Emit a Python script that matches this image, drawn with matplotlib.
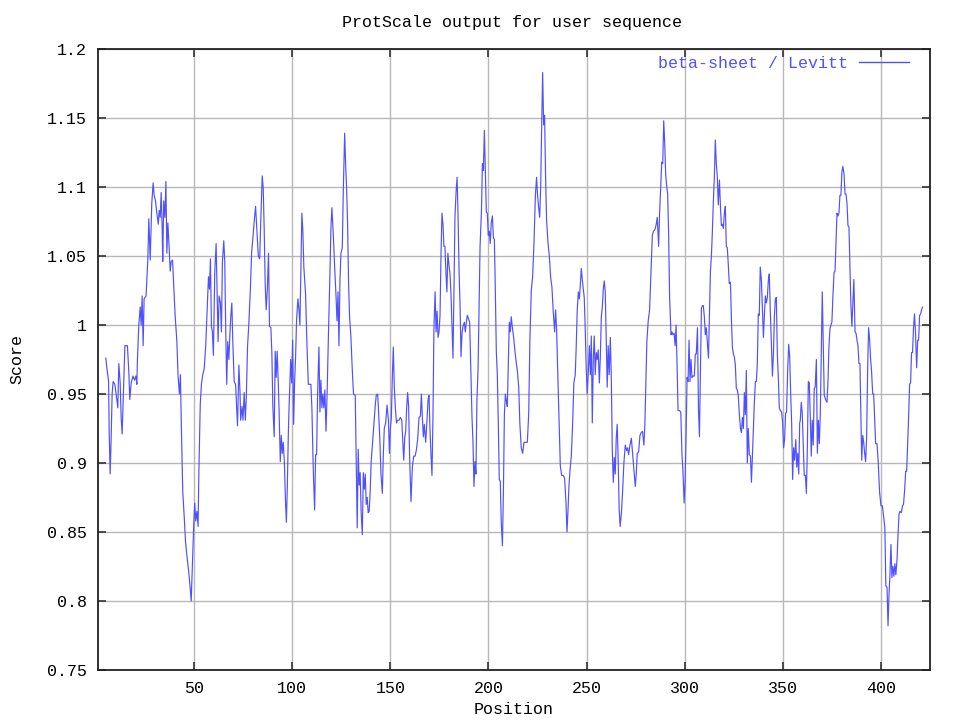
import matplotlib
matplotlib.use("Agg")
import matplotlib.pyplot as plt
from matplotlib.lines import Line2D

# (position, score) pairs, one list per stretch of the sequence
seg_1_73 = [
    (5.0, 0.976), (5.5, 0.969), (6.4, 0.959), (6.7, 0.923), (7.2, 0.892), (7.7, 0.918),
    (8.2, 0.95), (8.7, 0.959), (9.6, 0.957), (10.3, 0.949), (11.1, 0.94), (11.6, 0.972),
    (12.3, 0.958), (12.8, 0.933), (13.3, 0.921), (14.0, 0.954), (14.7, 0.985), (16.0, 0.985),
    (16.7, 0.966), (17.2, 0.946), (17.9, 0.958), (18.8, 0.963), (19.6, 0.96), (20.3, 0.963),
    (20.8, 0.957), (21.1, 0.975), (21.8, 1.0), (22.5, 1.013), (23.0, 1.0), (23.5, 1.021),
    (24.0, 0.985), (24.5, 1.019), (25.5, 1.021), (26.4, 1.048), (26.9, 1.077), (27.6, 1.047),
    (27.9, 1.063), (28.4, 1.088), (29.1, 1.103), (29.6, 1.094), (30.3, 1.09), (31.0, 1.081),
    (31.7, 1.073), (32.2, 1.083), (32.7, 1.078), (33.2, 1.096), (33.7, 1.07), (34.0, 1.046),
    (34.5, 1.09), (35.1, 1.078), (35.6, 1.104), (36.1, 1.052), (36.6, 1.074), (37.3, 1.055),
    (37.8, 1.039), (38.3, 1.046), (39.0, 1.047), (39.5, 1.032), (40.3, 1.007), (41.2, 0.988),
    (41.8, 0.963), (42.5, 0.95), (43.0, 0.964), (43.5, 0.925), (44.2, 0.879), (44.9, 0.862),
    (45.6, 0.843), (46.3, 0.833), (47.1, 0.823), (48.0, 0.809), (48.5, 0.8), (49.2, 0.83),
    (49.8, 0.856), (50.3, 0.871), (50.8, 0.858), (51.4, 0.865), (52.0, 0.854), (52.4, 0.893),
    (53.1, 0.942), (53.7, 0.957), (54.4, 0.964), (55.1, 0.968), (55.9, 0.985), (56.6, 1.011),
    (57.3, 1.035), (57.8, 1.026), (58.3, 1.048), (58.8, 0.999), (59.3, 0.995), (59.8, 0.978),
    (60.5, 1.038), (61.2, 1.059), (61.7, 1.024), (62.2, 0.988), (62.7, 1.021), (63.4, 1.016),
    (63.9, 0.995), (64.4, 1.046), (65.1, 1.061), (65.6, 1.046), (66.1, 0.995), (66.6, 0.957),
    (67.1, 0.988), (67.7, 0.975), (68.2, 0.993), (68.7, 1.007), (69.2, 1.016), (69.7, 0.988),
    (70.4, 0.959), (71.1, 0.957), (71.6, 0.942), (72.1, 0.927), (72.8, 0.971), (73.4, 0.95),
]

seg_74_144 = [
    (73.7, 0.931), (74.4, 0.941), (74.9, 0.931), (75.5, 0.951), (76.1, 0.931), (76.6, 0.949),
    (77.2, 0.984), (77.9, 1.002), (78.6, 1.024), (79.3, 1.053), (80.0, 1.064), (80.6, 1.075),
    (81.3, 1.086), (82.0, 1.068), (82.7, 1.05), (83.4, 1.048), (84.0, 1.078), (84.7, 1.108),
    (85.2, 1.099), (85.7, 1.069), (86.2, 1.03), (86.7, 1.011), (87.3, 1.026), (87.9, 1.052),
    (88.4, 0.999), (89.1, 0.998), (89.6, 0.98), (90.1, 0.941), (90.8, 0.919), (91.3, 0.981),
    (91.8, 0.962), (92.3, 0.981), (92.9, 0.957), (93.4, 0.931), (93.9, 0.901), (94.4, 0.92),
    (94.9, 0.907), (95.4, 0.915), (96.0, 0.9), (96.5, 0.874), (97.0, 0.857), (97.5, 0.884),
    (98.0, 0.922), (98.5, 0.946), (99.2, 0.975), (99.7, 0.958), (100.2, 0.989), (100.7, 0.928),
    (101.2, 0.959), (101.7, 0.977), (102.2, 1.004), (102.9, 1.019), (103.4, 1.011), (103.9, 1.0),
    (104.4, 1.039), (104.9, 1.081), (105.4, 1.068), (105.9, 1.042), (106.8, 1.022), (107.5, 0.985),
    (108.2, 0.957), (108.8, 0.957), (109.5, 0.957), (110.0, 0.94), (110.7, 0.895), (111.4, 0.866),
    (111.9, 0.906), (112.4, 0.906), (112.9, 0.95), (113.6, 0.984), (114.1, 0.937), (114.6, 0.96),
    (115.1, 0.94), (115.6, 0.95), (116.1, 0.94), (116.6, 0.953), (117.2, 0.923), (117.8, 0.953),
    (118.5, 0.997), (119.2, 1.037), (119.7, 1.07), (120.2, 1.085), (120.9, 1.066), (121.6, 1.042),
    (122.2, 1.024), (122.8, 1.003), (123.3, 1.024), (123.8, 0.985), (124.3, 1.032), (124.8, 1.052),
    (125.5, 1.056), (126.0, 1.097), (126.7, 1.139), (127.2, 1.116), (127.7, 1.099), (128.2, 1.073),
    (128.7, 1.03), (129.2, 1.006), (129.9, 0.991), (130.6, 0.967), (131.2, 0.95), (132.1, 0.949),
    (132.6, 0.901), (133.1, 0.853), (133.6, 0.91), (134.1, 0.884), (134.6, 0.893), (135.1, 0.864),
    (135.7, 0.848), (136.2, 0.893), (136.7, 0.881), (137.2, 0.892), (137.7, 0.87), (138.2, 0.875),
    (138.7, 0.864), (139.2, 0.865), (139.7, 0.879), (140.2, 0.901), (140.9, 0.914), (141.6, 0.928),
    (142.3, 0.942), (142.8, 0.949), (143.5, 0.95), (143.9, 0.94),
]

seg_145_215 = [
    (144.6, 0.918), (145.2, 0.892), (145.9, 0.878), (146.4, 0.906), (146.9, 0.925), (147.6, 0.929),
    (148.3, 0.942), (149.0, 0.931), (149.5, 0.907), (150.0, 0.925), (150.5, 0.933), (151.0, 0.963),
    (151.5, 0.984), (152.0, 0.955), (152.5, 0.941), (153.1, 0.929), (153.7, 0.931), (154.4, 0.931),
    (155.1, 0.933), (155.8, 0.931), (156.3, 0.917), (156.8, 0.902), (157.3, 0.918), (157.8, 0.923),
    (158.3, 0.94), (158.8, 0.951), (159.3, 0.941), (159.8, 0.905), (160.5, 0.872), (161.2, 0.897),
    (161.9, 0.905), (162.6, 0.905), (163.2, 0.909), (163.9, 0.917), (164.6, 0.933), (165.3, 0.934),
    (165.8, 0.95), (166.3, 0.933), (166.8, 0.919), (167.3, 0.928), (168.0, 0.915), (168.7, 0.932),
    (169.2, 0.946), (169.7, 0.949), (170.2, 0.924), (170.7, 0.906), (171.2, 0.891), (171.7, 0.933),
    (172.2, 0.998), (172.8, 1.024), (173.3, 0.995), (173.8, 1.01), (174.3, 0.991), (174.8, 0.995),
    (175.3, 1.007), (175.8, 1.051), (176.3, 1.081), (176.8, 1.073), (177.3, 1.057), (177.8, 1.057),
    (178.3, 1.038), (178.8, 1.024), (179.3, 1.052), (179.9, 1.043), (180.4, 1.037), (180.9, 1.022),
    (181.4, 0.999), (181.9, 0.976), (182.4, 1.024), (182.9, 1.078), (183.5, 1.097), (184.0, 1.107),
    (184.5, 1.079), (185.0, 1.039), (185.5, 1.015), (186.0, 0.977), (186.5, 0.994), (187.0, 0.999),
    (187.7, 1.002), (188.2, 0.995), (188.7, 1.002), (189.2, 1.007), (189.7, 1.005), (190.4, 1.002),
    (190.9, 0.972), (191.6, 0.933), (192.1, 0.915), (192.6, 0.883), (193.1, 0.901), (193.6, 0.892),
    (194.1, 0.945), (194.7, 0.969), (195.2, 1.013), (195.7, 1.057), (196.4, 1.082), (196.9, 1.117),
    (197.4, 1.112), (197.9, 1.141), (198.4, 1.111), (198.9, 1.082), (199.4, 1.081), (199.9, 1.065),
    (200.4, 1.068), (200.9, 1.059), (201.4, 1.074), (202.0, 1.079), (202.5, 1.063), (203.0, 1.062),
    (203.5, 1.024), (204.0, 0.98), (204.5, 0.964), (205.0, 0.929), (205.5, 0.888), (206.0, 0.887),
    (206.5, 0.857), (207.1, 0.84), (207.6, 0.879), (208.1, 0.935), (208.6, 0.95), (209.1, 0.945),
    (209.6, 0.941), (210.1, 0.971), (210.6, 1.002), (211.1, 0.995), (211.6, 1.006), (212.1, 0.999),
    (212.8, 0.991), (213.5, 0.981), (214.2, 0.972), (214.7, 0.967), (215.4, 0.955),
]

seg_216_287 = [
    (216.0, 0.928), (216.7, 0.911), (217.4, 0.907), (218.1, 0.915), (219.1, 0.915), (219.8, 0.915),
    (220.5, 0.936), (221.1, 0.989), (221.8, 1.025), (222.5, 1.035), (223.2, 1.06), (223.9, 1.094),
    (224.5, 1.107), (225.0, 1.094), (225.5, 1.086), (226.1, 1.078), (226.6, 1.1), (227.1, 1.144),
    (227.6, 1.183), (228.1, 1.145), (228.6, 1.152), (229.1, 1.107), (229.6, 1.076), (230.3, 1.06),
    (231.0, 1.05), (231.7, 1.034), (232.3, 1.028), (233.0, 1.01), (233.7, 0.995), (234.2, 1.011),
    (234.7, 0.997), (235.2, 0.971), (235.9, 0.932), (236.6, 0.898), (237.3, 0.891), (238.1, 0.891),
    (238.8, 0.889), (239.5, 0.871), (240.0, 0.85), (240.5, 0.865), (241.0, 0.883), (241.5, 0.894),
    (242.2, 0.905), (242.9, 0.929), (243.5, 0.958), (244.2, 0.964), (244.7, 0.984), (245.2, 1.01),
    (245.8, 1.024), (246.3, 1.019), (246.8, 1.029), (247.3, 1.041), (247.8, 1.033), (248.3, 1.026),
    (248.8, 1.02), (249.3, 0.997), (249.8, 0.969), (250.3, 0.95), (250.8, 0.964), (251.4, 0.985),
    (251.9, 0.964), (252.4, 0.992), (252.9, 0.929), (253.4, 0.975), (253.9, 0.992), (254.4, 0.964),
    (254.9, 0.98), (255.4, 0.975), (255.9, 0.982), (256.5, 0.958), (257.0, 0.977), (257.5, 1.006),
    (258.0, 1.013), (258.5, 1.026), (259.0, 1.032), (259.5, 1.024), (260.0, 0.988), (260.5, 0.955),
    (261.0, 0.985), (261.5, 0.964), (262.1, 0.991), (262.6, 0.961), (263.1, 0.909), (263.6, 0.886),
    (264.1, 0.904), (264.6, 0.892), (265.1, 0.918), (265.6, 0.928), (266.1, 0.902), (266.6, 0.866),
    (267.1, 0.854), (267.7, 0.863), (268.3, 0.878), (269.0, 0.9), (269.7, 0.913), (270.4, 0.909),
    (270.9, 0.911), (271.4, 0.906), (272.1, 0.913), (272.8, 0.918), (273.3, 0.909), (273.8, 0.9),
    (274.3, 0.892), (274.8, 0.883), (275.3, 0.892), (275.8, 0.907), (276.5, 0.908), (277.2, 0.92),
    (277.8, 0.922), (278.5, 0.923), (279.2, 0.913), (279.7, 0.928), (280.2, 0.959), (280.7, 0.988),
    (281.4, 1.003), (282.1, 1.011), (282.8, 1.038), (283.5, 1.065), (284.1, 1.068), (284.8, 1.069),
    (285.5, 1.073), (286.0, 1.078), (286.7, 1.057), (287.2, 1.081),
]

seg_288_358 = [
    (288.3, 1.118), (288.8, 1.117), (289.3, 1.148), (289.8, 1.132), (290.3, 1.109), (290.8, 1.101),
    (291.3, 1.095), (291.8, 1.066), (292.3, 1.02), (293.0, 0.993), (293.5, 0.995), (294.0, 0.993),
    (294.6, 0.994), (295.1, 0.985), (295.6, 1.0), (296.1, 0.971), (296.6, 0.938), (297.3, 0.938),
    (298.0, 0.937), (298.6, 0.906), (299.1, 0.894), (299.7, 0.871), (300.2, 0.887), (300.7, 0.92),
    (301.2, 0.962), (301.7, 0.959), (302.2, 0.989), (302.7, 0.959), (303.2, 0.975), (303.7, 0.962),
    (304.2, 0.963), (304.9, 0.963), (305.4, 0.979), (305.9, 0.979), (306.5, 0.998), (307.0, 0.94),
    (307.5, 0.919), (308.0, 0.964), (308.5, 1.012), (309.0, 1.014), (309.5, 1.014), (310.0, 1.006),
    (310.5, 0.993), (311.0, 0.998), (311.5, 0.988), (312.1, 0.976), (312.6, 1.007), (313.1, 1.039),
    (313.6, 1.05), (314.1, 1.068), (314.6, 1.09), (315.1, 1.107), (315.6, 1.134), (316.1, 1.117),
    (316.6, 1.108), (317.1, 1.087), (317.7, 1.105), (318.2, 1.086), (318.7, 1.072), (319.2, 1.073),
    (319.7, 1.07), (320.2, 1.081), (320.7, 1.086), (321.2, 1.057), (321.7, 1.056), (322.2, 1.044),
    (322.7, 1.03), (323.3, 1.031), (323.8, 1.004), (324.3, 0.984), (324.8, 0.979), (325.3, 0.977),
    (325.8, 0.971), (326.3, 0.954), (326.8, 0.953), (327.3, 0.949), (327.8, 0.936), (328.4, 0.925),
    (328.9, 0.922), (329.4, 0.933), (329.9, 0.925), (330.4, 0.951), (330.9, 0.935), (331.4, 0.967),
    (331.9, 0.9), (332.4, 0.925), (332.9, 0.906), (333.5, 0.905), (334.0, 0.886), (334.5, 0.906),
    (335.0, 0.927), (335.5, 0.944), (336.0, 0.959), (336.5, 0.959), (337.0, 0.972), (337.5, 1.008),
    (338.0, 1.007), (338.5, 1.042), (339.1, 1.032), (339.6, 1.011), (340.1, 0.991), (340.6, 1.007),
    (341.1, 1.021), (341.6, 1.016), (342.1, 1.02), (342.6, 1.032), (343.1, 1.037), (343.6, 1.011),
    (344.2, 0.985), (344.7, 0.963), (345.2, 0.979), (345.7, 1.006), (346.2, 1.019), (346.7, 1.02),
    (347.2, 0.979), (347.7, 0.962), (348.2, 0.94), (348.7, 0.938), (349.4, 0.937), (349.9, 0.929),
    (350.4, 0.911), (350.9, 0.917), (351.4, 0.936), (351.9, 0.937), (352.5, 0.969), (353.0, 0.986),
    (353.5, 0.977), (354.0, 0.95), (354.5, 0.929), (355.0, 0.888), (355.5, 0.911), (356.0, 0.902),
    (356.6, 0.917), (357.1, 0.897), (357.6, 0.907), (358.1, 0.892), (358.6, 0.929),
]

seg_359_421 = [
    (358.9, 0.931), (359.4, 0.944), (359.9, 0.936), (360.4, 0.913), (360.9, 0.891), (361.5, 0.891),
    (362.0, 0.878), (362.5, 0.911), (363.0, 0.959), (363.5, 0.958), (364.0, 0.933), (364.5, 0.905),
    (365.0, 0.931), (365.5, 0.913), (366.0, 0.954), (366.5, 0.955), (367.1, 0.975), (367.6, 0.907),
    (368.1, 0.931), (368.6, 0.914), (369.1, 0.936), (369.6, 0.979), (370.1, 1.024), (370.6, 0.985),
    (371.1, 0.949), (371.8, 0.946), (372.5, 0.944), (373.0, 0.959), (373.5, 0.984), (374.0, 0.997),
    (374.5, 1.0), (375.0, 1.002), (375.5, 1.02), (376.1, 1.038), (376.6, 1.039), (377.1, 1.06),
    (377.6, 1.081), (378.1, 1.079), (378.6, 1.081), (379.1, 1.094), (379.6, 1.094), (380.1, 1.111),
    (380.6, 1.115), (381.2, 1.109), (381.7, 1.095), (382.2, 1.095), (382.7, 1.088), (383.2, 1.072),
    (383.7, 1.071), (384.2, 1.042), (384.7, 1.014), (385.2, 0.999), (385.7, 1.016), (386.2, 1.033),
    (386.8, 0.995), (387.3, 0.994), (387.8, 0.989), (388.3, 0.985), (388.8, 0.972), (389.3, 0.972),
    (389.8, 0.933), (390.2, 0.902), (390.7, 0.92), (391.2, 0.915), (391.7, 0.907), (392.2, 0.901),
    (392.7, 0.918), (393.2, 0.966), (393.7, 0.998), (394.2, 0.99), (394.7, 0.976), (395.2, 0.967),
    (395.8, 0.95), (396.3, 0.95), (396.8, 0.931), (397.3, 0.914), (398.0, 0.914), (398.6, 0.901),
    (399.3, 0.879), (400.0, 0.869), (400.7, 0.869), (401.4, 0.861), (402.0, 0.853), (402.5, 0.811),
    (403.1, 0.81), (403.6, 0.782), (404.1, 0.804), (404.6, 0.819), (405.1, 0.841), (405.6, 0.817),
    (406.1, 0.825), (406.6, 0.818), (407.1, 0.827), (407.6, 0.819), (408.2, 0.83), (408.7, 0.848),
    (409.2, 0.863), (409.7, 0.865), (410.4, 0.864), (411.0, 0.869), (411.5, 0.87), (412.1, 0.881),
    (412.6, 0.894), (413.1, 0.894), (413.6, 0.914), (414.1, 0.933), (414.6, 0.957), (415.1, 0.958),
    (415.6, 0.98), (416.1, 0.98), (416.6, 0.998), (417.1, 1.008), (417.6, 0.995), (418.2, 0.969),
    (418.7, 0.989), (419.2, 0.989), (419.7, 1.007), (420.2, 1.008), (420.7, 1.011), (421.2, 1.013),
]

x_ticks = [50, 100, 150, 200, 250, 300, 350, 400]
y_ticks = [0.75, 0.8, 0.85, 0.9, 0.95, 1.0, 1.05, 1.1, 1.15, 1.2]
y_tick_labels = ["0.75", "0.8", "0.85", "0.9", "0.95", "1", "1.05", "1.1", "1.15", "1.2"]

title = "ProtScale output for user sequence"
series_label = "beta-sheet / Levitt"

line_blue = "#5050ff"
font = ["Liberation Mono", "DejaVu Sans Mono"]
fsize = 12

plt.rcParams["font.family"] = font

profile = seg_1_73 + seg_74_144 + seg_145_215 + seg_216_287 + seg_288_358 + seg_359_421
positions = [p for p, _ in profile]
scores = [s for _, s in profile]

fig = plt.figure(figsize=(9.6, 7.2), dpi=100)
ax = fig.add_axes([98 / 960, 50 / 720, 832 / 960, 621 / 720])

ax.plot(positions, scores, color=line_blue, linewidth=0.85, zorder=3)

ax.set_xlim(1, 425)
ax.set_ylim(0.75, 1.2)
ax.set_xticks(x_ticks)
ax.set_yticks(y_ticks)
ax.set_yticklabels(y_tick_labels)
ax.grid(True, color="#b8b8b8", linewidth=1.0, zorder=1)
ax.set_axisbelow(True)

ax.tick_params(direction="in", length=6, width=1.2, color="#333333",
               top=True, right=True, labelsize=fsize, pad=8)
for sp in ax.spines.values():
    sp.set_color("#222222")
    sp.set_linewidth(1.3)

ax.set_xlabel("Position", fontsize=fsize)
ax.xaxis.set_label_coords(0.5, -(702 - 670) / 621)
ax.set_ylabel("Score", fontsize=fsize)
ax.yaxis.set_label_coords(-(98 - 24) / 832, 0.5)

fig.text(512 / 960, 1 - 23 / 720, title, ha="center", va="center", fontsize=fsize)

handle = Line2D([], [], color=line_blue, linewidth=1.0)
leg = ax.legend([handle], [series_label], loc="center right",
                bbox_to_anchor=((909 - 98) / 832, 1 - (63 - 49) / 621),
                frameon=False, markerfirst=False, borderpad=0, borderaxespad=0,
                handlelength=3.0, handletextpad=0.65, fontsize=fsize)
for t in leg.get_texts():
    t.set_color(line_blue)

fig.savefig("out.png", dpi=100)
